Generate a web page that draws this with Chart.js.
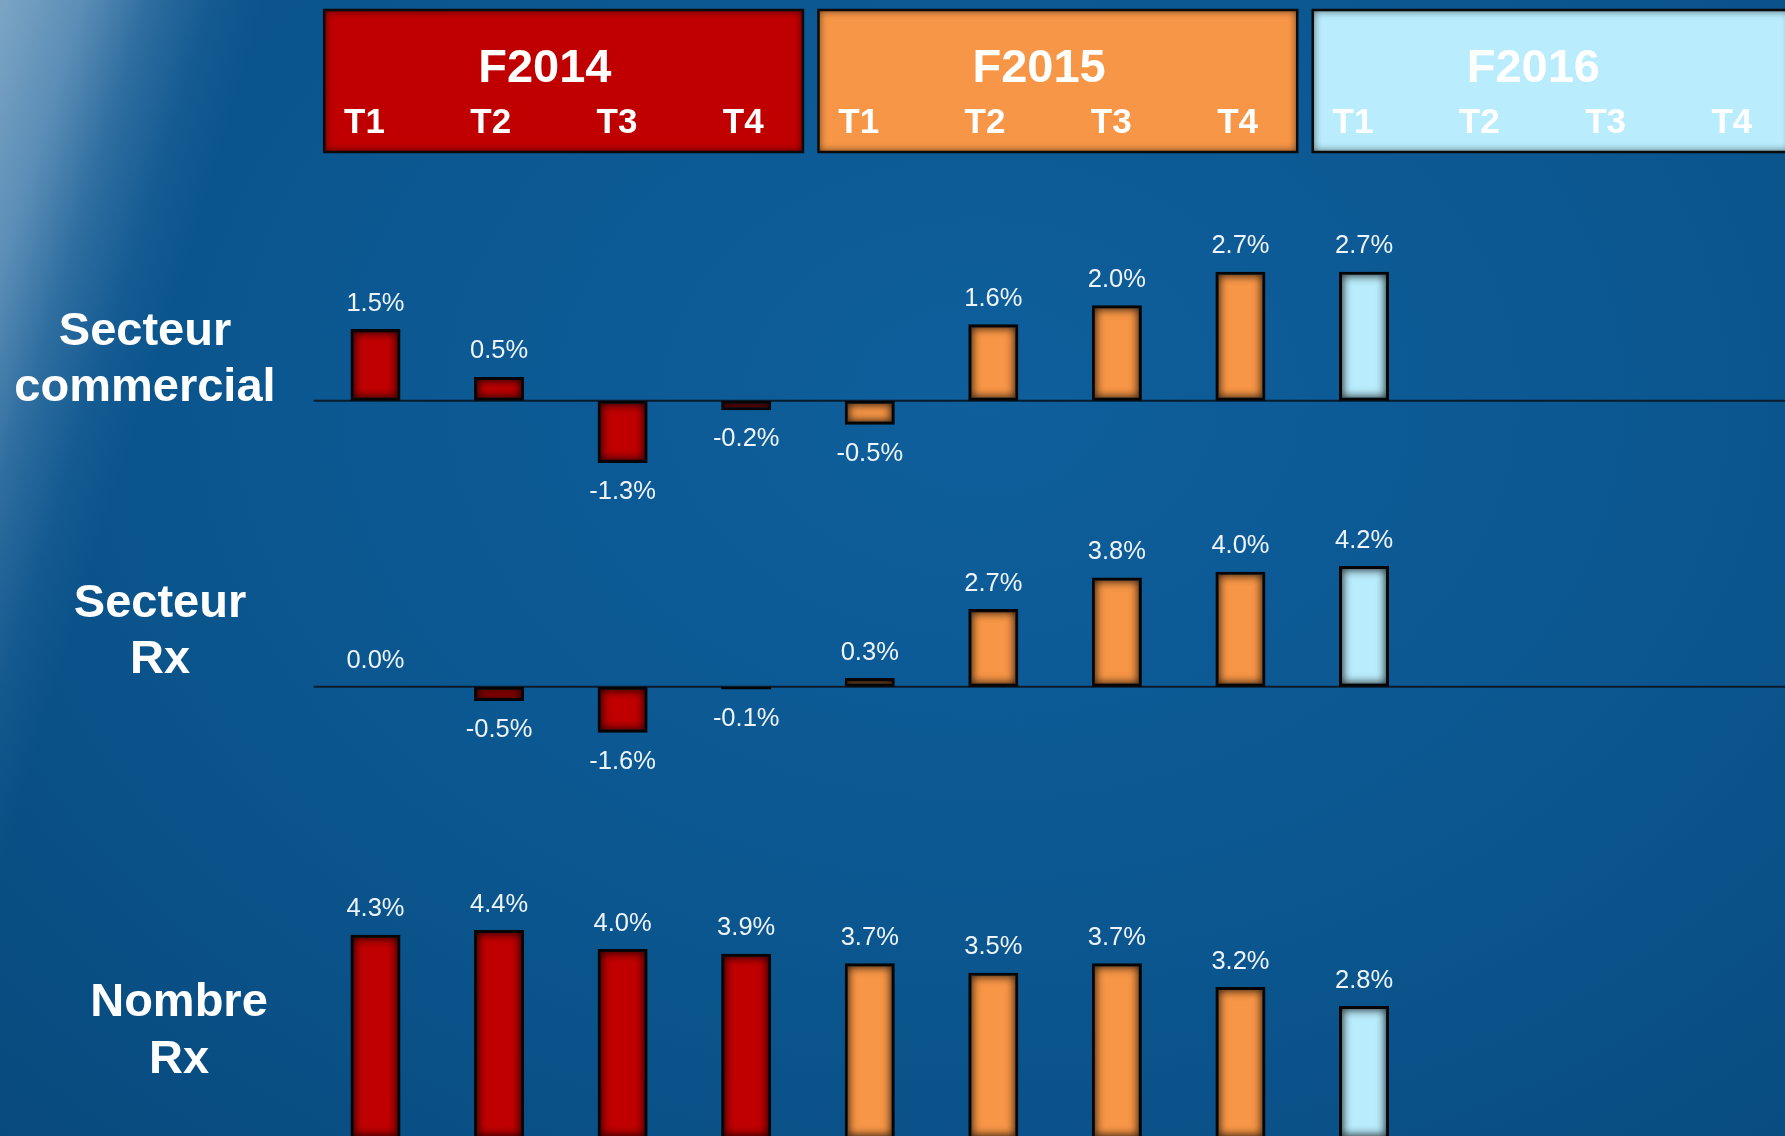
<!DOCTYPE html>
<html lang="fr">
<head>
<meta charset="utf-8">
<title>Croissance trimestrielle – secteur commercial, secteur Rx, nombre Rx</title>
<script src="https://cdn.jsdelivr.net/npm/chart.js@4.4.1/dist/chart.umd.min.js"></script>
<style>
  html, body { margin: 0; padding: 0; overflow: hidden; }
  body {
    width: 1785px; height: 1136px;
    background:
      linear-gradient(107deg, rgba(195,218,236,0.62) 0%, rgba(170,200,228,0.5) 4%, rgba(130,172,210,0.3) 7%, rgba(110,160,205,0.1) 10%, rgba(0,0,0,0) 12.5%),
      radial-gradient(ellipse at 55% 35%, #0e5f9c 0%, #0b568f 55%, #084a7d 100%);
  }
  #board { position: relative; width: 1800px; height: 1150px; }
  canvas { position: absolute; left: 0; }
</style>
</head>
<body>
<div id="board">
  <canvas id="rowCommercial" width="1800" height="530" style="top:0px"></canvas>
  <canvas id="rowSecteurRx" width="1800" height="290" style="top:510px"></canvas>
  <canvas id="rowNombreRx" width="1800" height="370" style="top:780px"></canvas>
</div>
<script>
// === data ===
const years = ["F2014", "F2015", "F2016"];
const quarters = ["T1", "T2", "T3", "T4"];
const categories = years.flatMap(y => quarters.map(q => y + " " + q));

const secteurCommercial = [1.5, 0.5, -1.3, -0.2, -0.5, 1.6, 2.0, 2.7, 2.7, null, null, null];
const secteurRx = [0.0, -0.5, -1.6, -0.1, 0.3, 2.7, 3.8, 4.0, 4.2, null, null, null];
const nombreRx = [4.3, 4.4, 4.0, 3.9, 3.7, 3.5, 3.7, 3.2, 2.8, null, null, null];

const yearColors = ["#c00000", "#f79646", "#b9ecfc"];
const barColors = categories.map((c, i) => yearColors[Math.floor(i / quarters.length)]);

const FONT = '"Liberation Sans", Arial, sans-serif';

// thin dark line at 0
const zeroLine = {
  id: "zeroLine",
  beforeDatasetsDraw(chart) {
    const { ctx, chartArea } = chart;
    const y = chart.scales.y.getPixelForValue(0);
    if (y > chart.height) return;
    ctx.save();
    ctx.strokeStyle = "#0a1b2c";
    ctx.lineWidth = 2;
    ctx.beginPath();
    ctx.moveTo(chartArea.left, y);
    ctx.lineTo(chart.width, y);
    ctx.stroke();
    ctx.restore();
  }
};

function innerShade(ctx, left, top, w, h, blur, alpha) {
  ctx.save();
  ctx.beginPath();
  ctx.rect(left, top, w, h);
  ctx.clip();
  ctx.shadowColor = "rgba(0,0,0," + alpha + ")";
  ctx.shadowBlur = blur;
  ctx.lineWidth = 12;
  ctx.strokeStyle = "#000";
  ctx.strokeRect(left - 6, top - 6, w + 12, h + 12);
  ctx.strokeRect(left - 6, top - 6, w + 12, h + 12);
  ctx.restore();
}

// inner shadow on bars + value labels
const barDecor = {
  id: "barDecor",
  afterDatasetsDraw(chart) {
    const ctx = chart.ctx;
    const values = chart.data.datasets[0].data;
    chart.getDatasetMeta(0).data.forEach((bar, i) => {
      const v = values[i];
      if (v === null || v === undefined) return;
      const left = bar.x - bar.width / 2;
      const top = Math.min(bar.y, bar.base);
      const h = Math.abs(bar.base - bar.y);
      if (h > 8) innerShade(ctx, left + 3, top + 3, bar.width - 6, h - 6, 10, 0.55);
      ctx.save();
      ctx.font = "25.5px " + FONT;
      ctx.fillStyle = "#eef4fa";
      ctx.textAlign = "center";
      ctx.textBaseline = "middle";
      const ly = v >= 0 ? bar.y - 25.5 : bar.y + 29;
      ctx.fillText(v.toFixed(1) + "%", bar.x, ly);
      ctx.restore();
    });
  }
};

// bold row name on the left
const rowTitle = {
  id: "rowTitle",
  afterDraw(chart, args, opts) {
    if (!opts.lines) return;
    const ctx = chart.ctx;
    ctx.save();
    ctx.font = "bold 47px " + FONT;
    ctx.fillStyle = "#ffffff";
    ctx.textAlign = "center";
    ctx.textBaseline = "alphabetic";
    opts.lines.forEach((t, i) => ctx.fillText(t, opts.x, opts.baselines[i]));
    ctx.restore();
  }
};

// year boxes with quarter names, aligned on the x scale
const yearHeader = {
  id: "yearHeader",
  afterDraw(chart) {
    const ctx = chart.ctx;
    const x = chart.scales.x;
    const step = x.getPixelForValue(1) - x.getPixelForValue(0);
    years.forEach((yr, k) => {
      const first = k * quarters.length;
      const last = first + quarters.length - 1;
      const x1 = x.getPixelForValue(first) - step / 2 + 10.5;
      const x2 = x.getPixelForValue(last) + step / 2 - 5;
      const y1 = 10, y2 = 152;
      ctx.save();
      ctx.fillStyle = yearColors[k];
      ctx.fillRect(x1, y1, x2 - x1, y2 - y1);
      ctx.restore();
      innerShade(ctx, x1, y1, x2 - x1, y2 - y1, 9, 0.4);
      ctx.save();
      ctx.strokeStyle = "#0b0b0b";
      ctx.lineWidth = 2.5;
      ctx.strokeRect(x1, y1, x2 - x1, y2 - y1);
      ctx.fillStyle = "#ffffff";
      ctx.textAlign = "center";
      ctx.textBaseline = "alphabetic";
      ctx.font = "bold 47px " + FONT;
      const mid = (x.getPixelForValue(first) + x.getPixelForValue(last)) / 2;
      ctx.fillText(yr, mid - 16, 81.7);
      ctx.font = "bold 35px " + FONT;
      quarters.forEach((q, j) => {
        ctx.fillText(q, x.getPixelForValue(first + j) - 11 + j * 2.7, 132.7);
      });
      ctx.restore();
    });
  }
};

function makeRow(id, values, yMin, yMax, padTop, padBottom, title, extra) {
  return new Chart(document.getElementById(id), {
    type: "bar",
    data: {
      labels: categories,
      datasets: [{
        data: values,
        backgroundColor: barColors,
        borderColor: "#050505",
        borderWidth: 3,
        borderSkipped: false,
        barPercentage: 0.405,
        categoryPercentage: 1,
      }]
    },
    options: {
      responsive: false,
      animation: false,
      events: [],
      layout: { padding: { left: 313.7, right: 3.5, top: padTop, bottom: padBottom } },
      scales: {
        x: { display: false },
        y: { display: false, min: yMin, max: yMax },
      },
      plugins: {
        legend: { display: false },
        tooltip: { enabled: false },
        rowTitle: title,
      },
    },
    plugins: [zeroLine, barDecor, rowTitle].concat(extra || []),
  });
}

makeRow("rowCommercial", secteurCommercial, -2, 3.5, 233.5, 33.6,
  { lines: ["Secteur", "commercial"], x: 145, baselines: [345, 401] }, [yearHeader]);
makeRow("rowSecteurRx", secteurRx, -2.5, 5, 33, 41.4,
  { lines: ["Secteur", "Rx"], x: 160, baselines: [106.7, 163.3] });
makeRow("rowNombreRx", nombreRx, 0, 5, 121.5, 11,
  { lines: ["Nombre", "Rx"], x: 179, baselines: [236, 292.7] });
</script>
</body>
</html>
